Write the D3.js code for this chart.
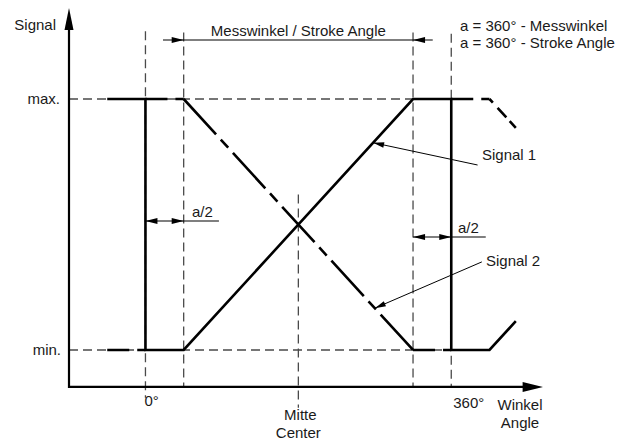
<!DOCTYPE html>
<html>
<head>
<meta charset="utf-8">
<script src="https://cdn.jsdelivr.net/npm/d3@7"></script>
<style>
  body { margin: 0; background: #fff; }
  text { font-family: "Liberation Sans", Arial, sans-serif; font-size: 15px; fill: #1a1a1a; }
</style>
</head>
<body>
<svg id="chart" width="632" height="441"></svg>
<script>
// angles in degrees, signal levels 0 = min, 1 = max
var signal1Angle = [-45, 0, 0, 45, 315, 360, 360, 405, 436];
var signal1Level = [1, 1, 0, 0, 1, 1, 0, 0, 0.115];
var signal2Angle = [-45, 0, 0, 45, 315, 360, 360, 405, 436];
var signal2Level = [0, 0, 1, 1, 0, 0, 1, 1, 0.885];
var guideAngle = [0, 45, 180, 315, 360];
var guideTop = [1.27, 1.265, 0.62, 1.265, 1.26];
var guideBottom = [-0.19, -0.15, -0.23, -0.15, -0.15];
var levelLabels = ["min.", "max."];
var angleLabels = ["0°", "360°"];
var centerLabels = ["Mitte", "Center"];
var xTitle = ["Winkel", "Angle"];
var yTitle = "Signal";
var strokeLabel = "Messwinkel / Stroke Angle";
var noteLines = ["a = 360° - Messwinkel", "a = 360° - Stroke Angle"];
var seriesNames = ["Signal 1", "Signal 2"];

var svg = d3.select("#chart");
var x = d3.scaleLinear().domain([-90, 468]).range([69, 543]);
var y = d3.scaleLinear().domain([0, 1]).range([350, 99]);

var guideStyle = "#4a4a4a";

// reference dashed lines at min / max
[0, 1].forEach(function(v) {
  svg.append("line")
    .attr("x1", x(-90)).attr("x2", x(360))
    .attr("y1", y(v)).attr("y2", y(v))
    .attr("stroke", guideStyle).attr("stroke-width", 1.3)
    .attr("stroke-dasharray", "9,5");
});

// vertical dashed guides
guideAngle.forEach(function(a, i) {
  svg.append("line")
    .attr("x1", x(a)).attr("x2", x(a))
    .attr("y1", y(guideTop[i])).attr("y2", y(guideBottom[i]))
    .attr("stroke", guideStyle).attr("stroke-width", 1.3)
    .attr("stroke-dasharray", "9,5");
});

// axes
var axisG = svg.append("g");
axisG.append("line")
  .attr("x1", x(-90)).attr("x2", x(-90))
  .attr("y1", y(-0.147) + 1).attr("y2", y(1.3))
  .attr("stroke", "#000").attr("stroke-width", 2.2);
axisG.append("line")
  .attr("x1", x(-90) - 1).attr("x2", x(450))
  .attr("y1", y(-0.147)).attr("y2", y(-0.147))
  .attr("stroke", "#000").attr("stroke-width", 2.2);
axisG.append("path")
  .attr("d", d3.line()([[x(-90), y(1.363)], [x(-90) - 4.5, y(1.275)], [x(-90) + 4.5, y(1.275)]]) + "Z")
  .attr("fill", "#000");
axisG.append("path")
  .attr("d", d3.line()([[x(468), y(-0.147)], [x(444), y(-0.147) - 5], [x(444), y(-0.147) + 5]]) + "Z")
  .attr("fill", "#000");

// signal 1 (solid)
var pts1 = signal1Angle.map(function(a, i) { return [x(a), y(signal1Level[i])]; });
svg.append("path")
  .attr("d", d3.line()(pts1))
  .attr("fill", "none").attr("stroke", "#000").attr("stroke-width", 2.6)
  .attr("stroke-linejoin", "miter");

// signal 2 (dashed), each non-vertical piece restarts its pattern
var last = signal2Angle.length - 2;
for (var i = 0; i < signal2Angle.length - 1; i++) {
  if (signal2Angle[i] === signal2Angle[i + 1]) continue;
  var flat = signal2Level[i] === signal2Level[i + 1];
  var dash = flat ? "22,8,9,6" : (i === last ? "5,7,13,5,10" : "48,7,11,7");
  svg.append("path")
    .attr("d", d3.line()([[x(signal2Angle[i]), y(signal2Level[i])], [x(signal2Angle[i + 1]), y(signal2Level[i + 1])]]))
    .attr("fill", "none").attr("stroke", "#000").attr("stroke-width", 2.6)
    .attr("stroke-dasharray", dash);
}

// arrowhead helper: tip at (tx,ty), pointing in direction from (fx,fy)
function arrowHead(tx, ty, fx, fy, len, half) {
  var dx = tx - fx, dy = ty - fy, d = Math.sqrt(dx * dx + dy * dy);
  var ux = dx / d, uy = dy / d;
  var bx = tx - ux * len, by = ty - uy * len;
  svg.append("path")
    .attr("d", d3.line()([[tx, ty], [bx - uy * half, by + ux * half], [bx + uy * half, by - ux * half]]) + "Z")
    .attr("fill", "#000");
}

function dimLine(a1, a2, v) {
  svg.append("line")
    .attr("x1", x(a1)).attr("x2", x(a2))
    .attr("y1", y(v)).attr("y2", y(v))
    .attr("stroke", "#000").attr("stroke-width", 1.1);
}

// stroke angle dimension
dimLine(20.6, 338.2, 1.235);
arrowHead(x(45), y(1.235), x(20), y(1.235), 12, 3);
arrowHead(x(315), y(1.235), x(340), y(1.235), 12, 3);

// a/2 dimensions
dimLine(0, 86.5, 0.514);
arrowHead(x(0), y(0.514), x(45), y(0.514), 12, 3);
arrowHead(x(45), y(0.514), x(0), y(0.514), 12, 3);
dimLine(315, 400.6, 0.450);
arrowHead(x(315), y(0.450), x(360), y(0.450), 12, 3);
arrowHead(x(360), y(0.450), x(315), y(0.450), 12, 3);

// leaders for signal names
var tip1 = [x(268), y((268 - 45) / 270)];
var from1 = [x(391), y(0.737)];
svg.append("line").attr("x1", from1[0]).attr("y1", from1[1]).attr("x2", tip1[0]).attr("y2", tip1[1])
  .attr("stroke", "#000").attr("stroke-width", 1);
arrowHead(tip1[0], tip1[1], from1[0], from1[1], 11, 2.8);

var tip2 = [x(270), y(1 - (270 - 45) / 270)];
var from2 = [x(396), y(0.351)];
svg.append("line").attr("x1", from2[0]).attr("y1", from2[1]).attr("x2", tip2[0]).attr("y2", tip2[1])
  .attr("stroke", "#000").attr("stroke-width", 1);
arrowHead(tip2[0], tip2[1], from2[0], from2[1], 11, 2.8);

// texts
function label(t, px, py, anchor) {
  svg.append("text").attr("x", px).attr("y", py).attr("text-anchor", anchor || "start").text(t);
}
label(yTitle, x(-90) - 13, 30, "end");
label(levelLabels[1], x(-90) - 9, y(1) + 5, "end");
label(levelLabels[0], x(-90) - 8, y(0) + 5, "end");
label(angleLabels[0], x(0) - 1, 406);
label(angleLabels[1], x(360) + 2, 408);
label(centerLabels[0], x(180) + 2, 420, "middle");
label(centerLabels[1], x(180), 438, "middle");
label(xTitle[0], 520, 410, "middle");
label(xTitle[1], 520, 428, "middle");
label(strokeLabel, x(180), 36, "middle");
label(noteLines[0], 460, 31);
label(noteLines[1], 460, 48);
label("a/2", 192, 217);
label("a/2", 458, 233);
label(seriesNames[0], 482, 160);
label(seriesNames[1], 486, 266);
</script>
</body>
</html>
